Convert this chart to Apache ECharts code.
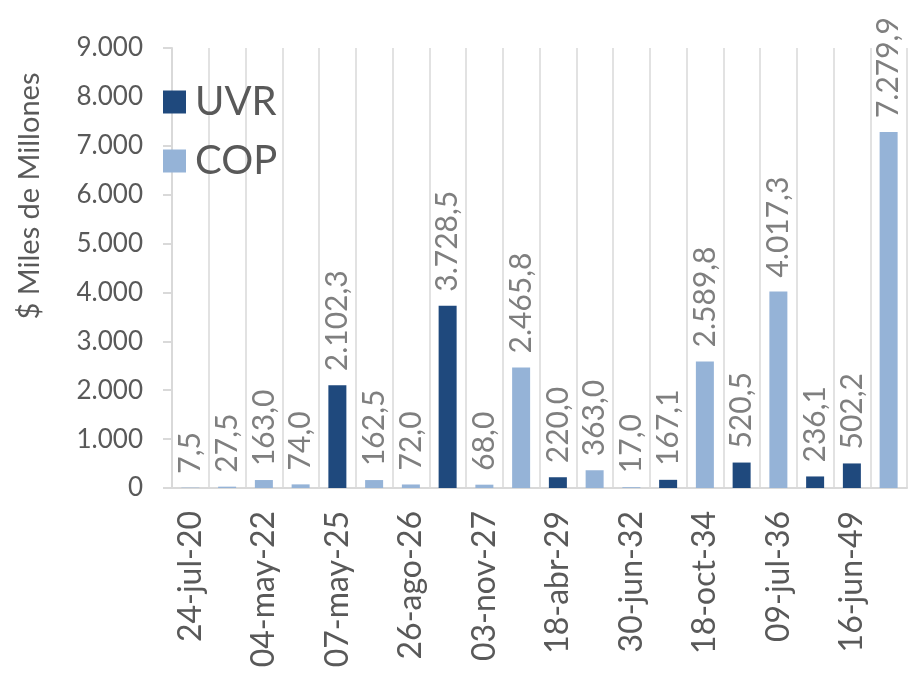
<!DOCTYPE html>
<html>
<head>
<meta charset="utf-8">
<script src="https://cdn.jsdelivr.net/npm/echarts@6/dist/echarts.min.js"></script>
<style>
  html, body { margin: 0; padding: 0; background: #fff; }
  #chart { width: 908px; height: 679px; }
</style>
</head>
<body>
<div id="chart"></div>
<script>
// vencimientos (solo se rotulan uno de cada dos)
var categorias = [
  "24-jul-20", "17-mar-21", "04-may-22", "24-jul-24", "07-may-25",
  "26-nov-25", "26-ago-26", "17-mar-27", "03-nov-27", "28-abr-28",
  "18-abr-29", "18-sep-30", "30-jun-32", "25-mar-33", "18-oct-34",
  "04-abr-35", "09-jul-36", "25-feb-37", "16-jun-49", "26-oct-50"
];
var uvr = [
  null, null, null, null, 2102.3,
  null, null, 3728.5, null, null,
  220.0, null, null, 167.1, null,
  520.5, null, 236.1, 502.2, null
];
var cop = [
  7.5, 27.5, 163.0, 74.0, null,
  162.5, 72.0, null, 68.0, 2465.8,
  null, 363.0, 17.0, null, 2589.8,
  null, 4017.3, null, null, 7279.9
];
var yTicks = [0, 1000, 2000, 3000, 4000, 5000, 6000, 7000, 8000, 9000];

var FONT = "Lato";

function miles(n) {
  return String(n).replace(/\B(?=(\d{3})+(?!\d))/g, ".");
}
function fmt(v) {
  var parts = v.toFixed(1).split(".");
  return miles(parts[0]) + "," + parts[1];
}

var chart = echarts.init(document.getElementById("chart"));

var barLabel = {
  show: true,
  position: "top",
  rotate: 90,
  align: "left",
  verticalAlign: "middle",
  distance: 14,
  fontSize: 30,
  fontFamily: FONT,
  color: "#7f7f7f",
  formatter: function (p) { return fmt(p.value); }
};

var option = {
  animation: false,
  grid: { left: 172, right: 1, top: 48, bottom: 191 },
  legend: {
    orient: "vertical",
    left: 163,
    top: 81,
    padding: 0,
    itemWidth: 23,
    itemHeight: 23,
    itemGap: 17,
    icon: "rect",
    textStyle: {
      fontSize: 40, fontFamily: FONT, color: "#595959", lineHeight: 42,
      padding: [0, 0, 0, 4]
    },
    data: ["UVR", "COP"]
  },
  xAxis: {
    type: "category",
    data: categorias,
    axisLine: { lineStyle: { color: "#d9d9d9", width: 2 } },
    axisTick: { show: false },
    splitLine: { show: true, interval: 0, lineStyle: { color: "#d9d9d9", width: 1.5 } },
    axisLabel: {
      interval: 1,
      rotate: 90,
      margin: 23,
      fontSize: 32,
      fontFamily: FONT,
      color: "#595959"
    }
  },
  yAxis: {
    type: "value",
    min: yTicks[0],
    max: yTicks[yTicks.length - 1],
    interval: 1000,
    axisLine: { show: true, lineStyle: { color: "#d9d9d9", width: 2 } },
    axisTick: { show: true, length: 9, lineStyle: { color: "#d9d9d9", width: 2 } },
    splitLine: { show: false },
    axisLabel: {
      margin: 29,
      fontSize: 26,
      fontFamily: FONT,
      color: "#595959",
      formatter: function (v) { return miles(v); }
    }
  },
  graphic: [{
    type: "text",
    x: 30,
    y: 196,
    rotation: Math.PI / 2,
    style: {
      text: "$ Miles de Millones",
      fontSize: 29,
      fontFamily: FONT,
      fill: "#595959",
      align: "center",
      verticalAlign: "middle",
      textAlign: "center",
      textVerticalAlign: "middle"
    }
  }],
  series: [
    {
      name: "UVR",
      type: "bar",
      data: uvr,
      barWidth: 18,
      barGap: "-100%",
      itemStyle: { color: "#1f497d" },
      label: barLabel
    },
    {
      name: "COP",
      type: "bar",
      data: cop,
      barWidth: 18,
      barGap: "-100%",
      itemStyle: { color: "#95b3d7" },
      label: barLabel
    }
  ]
};

chart.setOption(option);
</script>
</body>
</html>
